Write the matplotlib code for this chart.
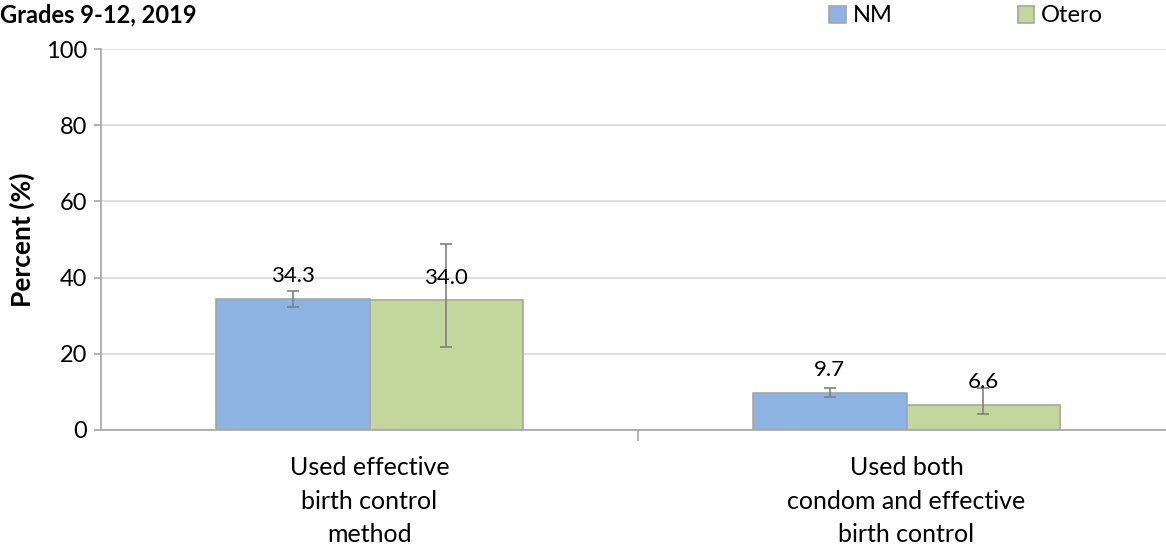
import matplotlib
matplotlib.use("Agg")
import matplotlib.pyplot as plt
import numpy as np

# donnees
categories = ["Used effective\nbirth control\nmethod", "Used both\ncondom and effective\nbirth control"]
series_names = ["NM", "Otero"]
nm_values = [34.3, 9.7]
otero_values = [34.0, 6.6]
nm_low = [32.3, 8.7]
nm_high = [36.5, 11.0]
otero_low = [21.8, 4.2]
otero_high = [48.8, 11.1]
yticks = [0, 20, 40, 60, 80, 100]

plt.rcParams['font.family'] = ['Lato', 'DejaVu Sans']

fig = plt.figure(figsize=(11.66, 5.5), dpi=100)
# l'axe depasse a droite comme dans l'image d'origine
ax = fig.add_axes([101/1166, (550-430)/550, (1175-101)/1166, 381/550])

x = np.arange(len(categories))
w = 0.286
colors = ["#8DB3E2", "#C3D69B"]

nm = np.array(nm_values)
ot = np.array(otero_values)
nm_err = [nm - np.array(nm_low), np.array(nm_high) - nm]
ot_err = [ot - np.array(otero_low), np.array(otero_high) - ot]

ax.bar(x - w/2, nm, w, color=colors[0], edgecolor="#A6A6A6", linewidth=1.2, label=series_names[0], zorder=2)
ax.bar(x + w/2, ot, w, color=colors[1], edgecolor="#A6A6A6", linewidth=1.2, label=series_names[1], zorder=2)
ax.errorbar(x - w/2, nm, yerr=nm_err, fmt="none", ecolor="#808080", elinewidth=1.2, capsize=4, capthick=1.2, zorder=3)
ax.errorbar(x + w/2, ot, yerr=ot_err, fmt="none", ecolor="#808080", elinewidth=1.2, capsize=4, capthick=1.2, zorder=3)

# etiquettes des valeurs
for xi, v in zip(x - w/2, nm):
    ax.annotate(f"{v:.1f}", (xi, v), xytext=(0, 16.5), textcoords="offset points", ha="center", va="center", fontsize=16, zorder=4)
for xi, v in zip(x + w/2, ot):
    ax.annotate(f"{v:.1f}", (xi, v), xytext=(0, 16.5), textcoords="offset points", ha="center", va="center", fontsize=16, zorder=4)

ax.set_xlim(-0.5, 1.5)
ax.set_ylim(0, 100)
ax.set_yticks(yticks)
ax.set_yticklabels([str(t) for t in yticks], fontsize=17)
ax.yaxis.grid(True, color="#D9D9D9", linewidth=1.2, zorder=0)
ax.set_axisbelow(True)

ax.set_xticks([0.5])
ax.set_xticklabels([""])
ax.tick_params(axis="x", length=8, color="#A6A6A6", width=1.2)
ax.tick_params(axis="y", length=5, color="#A6A6A6", width=1.2, pad=5)
for xi, lab in zip(x, categories):
    ax.text(xi, -6.8, lab, ha="center", va="top", fontsize=18, linespacing=1.56)

for s in ["top", "right"]:
    ax.spines[s].set_visible(False)
ax.spines["left"].set_color("#A6A6A6")
ax.spines["bottom"].set_color("#A6A6A6")
ax.spines["left"].set_linewidth(1.2)
ax.spines["bottom"].set_linewidth(1.2)

ax.set_ylabel("Percent (%)", fontsize=19, fontweight="bold", labelpad=8)

fig.text(0.0, 1 - 15/550, "Grades 9-12, 2019", ha="left", va="center", fontsize=17, fontweight="bold")

fig.legend(loc="center left", bbox_to_anchor=(829/1166, 1 - 16/550), ncol=2, frameon=False,
           fontsize=17, handlelength=0.7, handleheight=0.7, columnspacing=5.3, handletextpad=0.3,
           borderaxespad=0, borderpad=0)

plt.savefig("out.png", dpi=100)
plt.close()
